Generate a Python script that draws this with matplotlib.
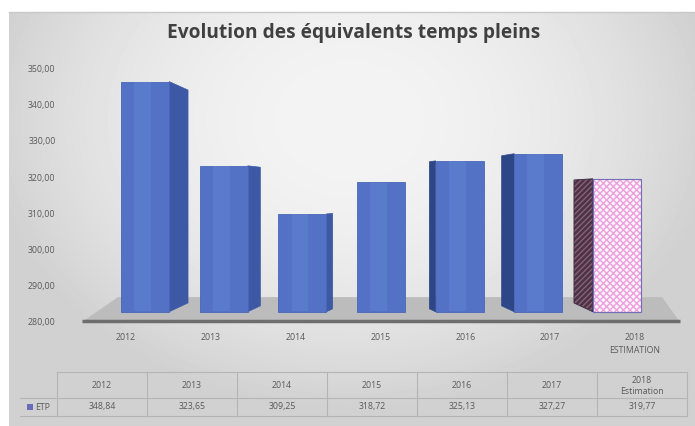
import numpy as np
import matplotlib
matplotlib.use("Agg")
import matplotlib.pyplot as plt
from matplotlib.patches import Polygon, Rectangle

plt.rcParams['font.family'] = ['Open Sans', 'DejaVu Sans']
plt.rcParams['hatch.linewidth'] = 1.0

# data
annees = ['2012', '2013', '2014', '2015', '2016', '2017', '2018\nESTIMATION']
annees_table = ['2012', '2013', '2014', '2015', '2016', '2017', '2018\nEstimation']
etp = [348.84, 323.65, 309.25, 318.72, 325.13, 327.27, 319.77]
graduations = [280, 290, 300, 310, 320, 330, 340, 350]
titre = 'Evolution des équivalents temps pleins'
serie = 'ETP'

W, H = 695, 426
fig = plt.figure(figsize=(W / 100, H / 100), dpi=100)

# fond gris degrade
bg = fig.add_axes([0, 0, 1, 1], zorder=-2)
yy, xx = np.mgrid[0:H, 0:W]
r = np.sqrt(((xx - 350) / 430.0) ** 2 + ((yy - 120) / 340.0) ** 2)
val = np.clip(0.955 - 0.19 * r ** 2, 0.82, 1)
val[yy < 12] = 1.0
val[xx < 9] = 1.0
bg.imshow(val, cmap='gray', vmin=0, vmax=1, extent=[0, W, H, 0], aspect='auto')
bg.plot([9, W], [12, 12], color='#c8c8c8', lw=1)
bg.set_xlim(0, W)
bg.set_ylim(H, 0)
bg.axis('off')

# axe principal
ax = fig.add_axes([82 / W, (H - 322) / H, 598 / W, 262 / H])
ax.set_facecolor('none')
ax.set_xlim(-0.804, 6.804)
ax.set_ylim(277.32, 355.3)
for s in ax.spines.values():
    s.set_visible(False)

# sol en perspective
sol = Polygon([(0, 0), (1, 0), (0.97, 0.095), (0.06, 0.095)], closed=True,
              transform=ax.transAxes, facecolor='#bcbcbc', edgecolor='none', zorder=1)
ax.add_patch(sol)
ax.plot([0, 1], [0.004, 0.004], transform=ax.transAxes, color='#6e6e6e', lw=2.5,
        solid_capstyle='butt', zorder=2, clip_on=False)

base = 280.0
largeur = 0.61
yv = 315.1  # point de fuite vertical
for i, v in enumerate(etp):
    x0 = i - largeur / 2
    x1 = i + largeur / 2
    dx = 0.08 * (3 - i)
    f = abs(3 - i) * 0.025
    est = i == len(etp) - 1
    if dx > 0:
        xe = x1
        cote = '#3d59a6'
    else:
        xe = x0
        cote = '#2d4688'
    if dx != 0:
        pts = [(xe, base), (xe, v), (xe + dx, v + (yv - v) * f),
               (xe + dx, base + (yv - base) * f)]
        if est:
            ax.add_patch(Polygon(pts, closed=True, facecolor='#4a3444',
                                 edgecolor='#8a6078', lw=0, hatch='//////', zorder=3))
            ax.add_patch(Polygon(pts, closed=True, facecolor='none',
                                 edgecolor='#3a2a40', lw=0.6, zorder=3))
        else:
            ax.add_patch(Polygon(pts, closed=True, facecolor=cote,
                                 edgecolor=cote, lw=0.5, zorder=3))
    if est:
        ax.bar(i, v - base, width=largeur, bottom=base, color='#fdf4fb',
               edgecolor='#ec9ede', lw=0, hatch='xxxxx', zorder=4)
        ax.bar(i, v - base, width=largeur, bottom=base, color='none',
               edgecolor='#6f6fb8', lw=0.8, zorder=4)
    else:
        ax.bar(i, v - base, width=largeur, bottom=base, color='#5372c6',
               edgecolor='#4865b8', lw=0.6, zorder=4)
        ax.bar(i - largeur * 0.05, v - base - 0.3, width=largeur * 0.35,
               bottom=base + 0.15, color='#6282d2', lw=0, alpha=0.5, zorder=4)

# graduations sur la paroi du fond (echelle en perspective)
def paroi(g):
    return 276.93 + (g - 280) * 1.0839

ax.set_yticks([paroi(g) for g in graduations])
ax.set_yticklabels([f'{g:.2f}'.replace('.', ',') for g in graduations])
ax.tick_params(axis='y', length=0, pad=19, labelsize=6.3, labelcolor='#5a5a5a')
ax.set_xticks([i * 1.079 - 0.244 for i in range(len(annees))])
ax.set_xticklabels(annees, va='top', linespacing=1.5)
ax.tick_params(axis='x', length=0, pad=8, labelsize=6.3, labelcolor='#5a5a5a')

fig.text(354 / W, 1 - 33 / H, titre, ha='center', va='center', fontsize=13.8,
         fontweight='bold', color='#404040')

# tableau de donnees
tb = fig.add_axes([0, 0, 1, 1], zorder=1)
tb.set_xlim(0, W)
tb.set_ylim(H, 0)
tb.axis('off')
lc = '#b4b4b4'
cols = [57 + 90 * k for k in range(len(annees_table) + 1)]
tb.plot([cols[0], cols[-1]], [372, 372], color=lc, lw=0.8)
tb.plot([20, cols[-1]], [398, 398], color=lc, lw=0.8)
tb.plot([20, cols[-1]], [416, 416], color=lc, lw=0.8)
for c in cols:
    tb.plot([c, c], [372, 416], color=lc, lw=0.8)
for k, (a, v) in enumerate(zip(annees_table, etp)):
    xc = (cols[k] + cols[k + 1]) / 2
    tb.text(xc, 386, a, ha='center', va='center', fontsize=6.3, color='#5a5a5a',
            linespacing=1.2)
    tb.text(xc, 407, f'{v:.2f}'.replace('.', ','), ha='center', va='center',
            fontsize=6.3, color='#5a5a5a')
tb.add_patch(Rectangle((27, 404), 6, 6, facecolor='#6a6cba', edgecolor='none'))
tb.text(35, 407, serie, ha='left', va='center', fontsize=6.3, color='#5a5a5a')

fig.savefig('out.png', dpi=100)
